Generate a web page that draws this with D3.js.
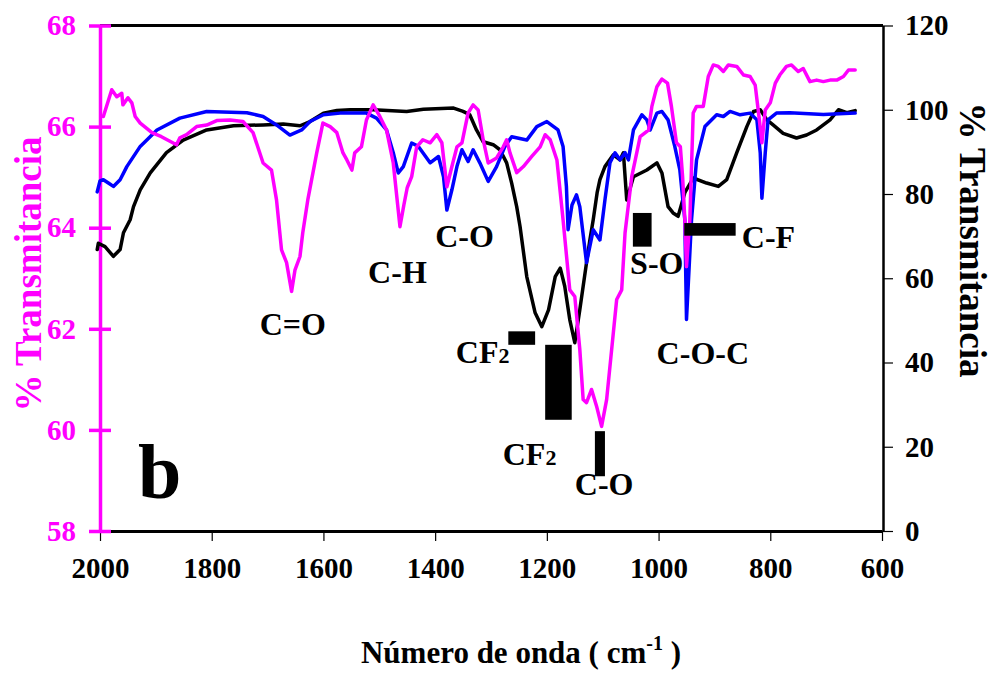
<!DOCTYPE html>
<html lang="es">
<head>
<meta charset="UTF-8">
<title>FTIR b</title>
<script src="https://cdnjs.cloudflare.com/ajax/libs/d3/7.8.5/d3.min.js"></script>
<style>
    body { margin: 0; background: #fff; }
    svg text { font-family: "Liberation Serif", "Times New Roman", serif; font-weight: bold; }
</style>
</head>
<body>
<svg id="chart" width="998" height="674"></svg>
<script>
// magenta spectrum (left axis)
const magWn = [1994,1979,1970,1961,1959,1950,1943,1937,1928,1907,1890,1863,1857,1845,1827,1809,1791,1767,1744,1726,
    1708,1693,1684,1675,1666,1657,1651,1642,1637,1628,1612,1601,1588,1576,1565,1558,1549,1544,1532,1523,
    1511,1499,1487,1475,1463,1456,1450,1442,1433,1422,1409,1397,1388,1379,1370,1361,1352,1341,1332,1323,
    1314,1305,1290,1278,1272,1266,1254,1242,1227,1212,1203,1194,1182,1171,1159,1150,1141,1135,1129,1120,
    1111,1102,1093,1081,1075,1066,1060,1048,1033,1018,1012,1003,994,984,977,968,961,957,953,950,
    944,938,932,920,911,902,893,884,875,860,848,836,827,821,815,809,800,791,783,771,
    762,750,741,729,717,705,693,681,669,660,648];
const magT = [66.20,66.73,66.59,66.66,66.43,66.57,66.47,66.20,66.07,65.88,65.80,65.64,65.78,65.84,66.00,66.03,66.12,66.13,66.10,65.88,
    65.28,65.14,64.55,63.56,63.31,62.74,63.16,63.43,63.90,64.55,65.48,66.07,66.00,65.88,65.48,65.34,65.14,65.48,65.60,66.13,
    66.43,66.20,65.93,65.28,64.02,64.45,64.79,65.01,65.60,65.74,65.68,65.84,65.68,64.81,65.21,65.60,65.68,66.27,66.43,66.33,
    65.74,65.28,65.38,65.60,65.74,65.48,65.09,65.21,65.41,65.60,65.84,65.74,65.34,64.16,62.77,62.64,61.59,60.60,60.54,60.80,
    60.47,60.07,60.60,61.92,62.58,62.77,63.90,65.01,65.80,65.93,66.40,66.79,66.94,66.86,66.40,65.68,65.60,65.01,64.16,63.23,
    64.16,66.27,66.40,66.40,66.99,67.22,67.19,67.09,67.22,67.19,67.02,66.99,66.82,66.27,65.68,66.33,66.47,66.86,67.02,67.19,
    67.22,67.09,67.15,66.89,66.92,66.89,66.92,66.92,66.99,67.12,67.12];

// blue spectrum (right axis)
const blueWn = [2005,2000,1994,1985,1976,1964,1952,1928,1898,1857,1809,1737,1708,1684,1660,1639,1624,1600,1570,1523,
    1505,1487,1475,1466,1457,1442,1430,1409,1394,1385,1379,1370,1361,1352,1341,1332,1320,1305,1290,1275,
    1263,1236,1218,1200,1180,1171,1165,1162,1155,1147,1141,1129,1117,1105,1096,1087,1078,1069,1060,1054,
    1045,1030,1021,1015,1003,994,983,971,962,953,950,941,932,917,896,884,872,854,836,824,
    818,815,809,804,789,765,705,648];
const blueT = [80.5,83.1,83.4,82.6,81.8,83.4,86.5,91.3,95.2,98.0,99.6,99.3,98.4,96.4,94.0,95.2,97.2,98.8,99.2,99.2,
    98.0,95.2,89.8,85.0,86.5,92.1,91.3,87.4,88.9,84.1,76.2,81.0,86.5,90.5,87.7,90.5,87.4,83.0,86.5,91.3,
    93.6,92.8,96.0,97.2,95.2,91.3,81.8,71.5,77.4,79.8,77.0,63.7,71.5,69.1,78.6,87.4,89.8,88.1,89.8,88.1,
    95.2,98.8,97.6,95.2,99.2,99.6,97.6,91.3,85.8,73.9,50.2,73.9,88.1,96.0,98.8,98.4,99.6,98.8,99.2,97.6,
    89.8,79.0,89.8,97.6,99.2,99.3,98.9,99.2];

// black spectrum (right axis)
const blackWn = [2005,2003,1991,1976,1964,1958,1946,1940,1928,1910,1881,1851,1809,1761,1708,1672,1642,1624,1600,1576,
    1552,1511,1451,1421,1367,1350,1338,1326,1314,1296,1284,1272,1263,1254,1248,1236,1221,1209,1197,1185,
    1176,1168,1159,1150,1141,1129,1123,1117,1110,1105,1096,1081,1069,1063,1057,1045,1021,1003,994,983,
    974,965,953,938,914,893,878,860,842,830,818,806,795,777,753,735,717,693,678,663,648];
const blackT = [66.8,68.3,67.5,65.2,66.8,70.8,73.9,77.0,81.0,85.0,89.8,92.8,95.2,96.2,96.4,96.6,96.2,97.2,99.2,99.8,
    100.0,100.0,99.6,100.1,100.4,99.6,98.8,95.2,92.4,91.7,90.5,87.4,82.6,77.0,72.3,60.4,51.8,48.5,52.5,60.4,
    62.4,58.1,50.2,44.7,52.5,63.7,69.1,73.9,80.3,83.4,86.5,89.3,88.1,89.8,78.6,84.1,85.7,87.4,85.0,77.0,
    75.5,74.7,80.3,83.8,82.6,81.8,83.4,89.8,96.0,99.6,100.0,97.6,96.4,94.4,93.3,94.0,95.2,97.6,100.0,99.3,99.8];

const xTicks = [2000, 1800, 1600, 1400, 1200, 1000, 800, 600];
const leftTicks = [58, 60, 62, 64, 66, 68];
const rightTicks = [0, 20, 40, 60, 80, 100, 120];

// band labels: wavenumber, right-axis value, text, subscript
const bandLabels = [
    {wn: 1714, v: 46.5, text: "C=O"},
    {wn: 1520, v: 58.9, text: "C-H"},
    {wn: 1400, v: 67.5, text: "C-O"},
    {wn: 1363, v: 39.9, text: "CF", sub: "2"},
    {wn: 1279, v: 15.7, text: "CF", sub: "2"},
    {wn: 1150, v: 8.6, text: "C-O"},
    {wn: 1051, v: 61.0, text: "S-O"},
    {wn: 851, v: 67.1, text: "C-F"},
    {wn: 1003.5, v: 39.6, text: "C-O-C"}
];
// black marker bars: wavenumber range and right-axis range
const markerBars = [
    {wn1: 1269, wn2: 1221, v1: 47.4, v2: 44.2},
    {wn1: 1203, wn2: 1155.5, v1: 44.2, v2: 26.4},
    {wn1: 1114, wn2: 1096, v1: 23.7, v2: 13.0},
    {wn1: 1046, wn2: 1012.5, v1: 75.5, v2: 67.5},
    {wn1: 954, wn2: 862, v1: 73.1, v2: 70.1}
];

const MAGENTA = "#ff00ff";
const FONT = '"Liberation Serif", "Times New Roman", serif';
const svg = d3.select("#chart");

const x = d3.scaleLinear().domain([2000, 600]).range([100, 882]);
const yL = d3.scaleLinear().domain([58, 68]).range([531, 25.5]);
const yR = d3.scaleLinear().domain([0, 120]).range([531, 25.5]);

// tick label styling shared by the three axes
function styleAxis(g, color) {
    g.attr("font-family", null).attr("font-size", null);
    g.selectAll(".tick text")
        .attr("fill", color)
        .style("font-family", FONT)
        .style("font-weight", "bold")
        .style("font-size", "29px");
}

// top frame line
svg.append("line").attr("x1", 100).attr("x2", 883).attr("y1", yR(120)).attr("y2", yR(120))
    .attr("stroke", "#000").attr("stroke-width", 3);

// x axis
const xAxis = svg.append("g").attr("transform", `translate(0,${yR(0)})`)
    .call(d3.axisBottom(x).tickValues(xTicks).tickFormat(d3.format("d"))
        .tickSize(10).tickSizeOuter(0).tickPadding(16));
styleAxis(xAxis, "#000");
xAxis.select(".domain").attr("stroke-width", 3);
xAxis.selectAll(".tick line").attr("stroke-width", 1.2);

// right axis
const rAxis = svg.append("g").attr("transform", `translate(883,0)`)
    .call(d3.axisRight(yR).tickValues(rightTicks).tickFormat(d3.format("d"))
        .tickSize(10).tickSizeOuter(0).tickPadding(12));
styleAxis(rAxis, "#000");
rAxis.select(".domain").attr("stroke-width", 2.5);
rAxis.selectAll(".tick line").attr("stroke-width", 1.2);

// left axis (magenta, ticks cross the line)
const lAxis = svg.append("g").attr("transform", `translate(100,0)`)
    .call(d3.axisLeft(yL).tickValues(leftTicks).tickFormat(d3.format("d"))
        .tickSize(10).tickSizeOuter(0).tickPadding(14));
styleAxis(lAxis, MAGENTA);
lAxis.select(".domain").attr("stroke", MAGENTA).attr("stroke-width", 3.5);
lAxis.selectAll(".tick line").attr("stroke", MAGENTA).attr("stroke-width", 3.5).attr("x2", -11).attr("x1", 11);

// spectra
function drawSeries(wn, vals, yScale, color) {
    const pts = wn.map((w, i) => [w, vals[i]]);
    svg.append("path")
        .datum(pts)
        .attr("fill", "none")
        .attr("stroke", color)
        .attr("stroke-width", 3.5)
        .attr("stroke-linejoin", "round")
        .attr("stroke-linecap", "round")
        .attr("d", d3.line().x(d => x(d[0])).y(d => yScale(d[1])));
}
drawSeries(blackWn, blackT, yR, "#000");
drawSeries(blueWn, blueT, yR, "#0000ff");
drawSeries(magWn, magT, yL, MAGENTA);

// marker bars
svg.append("g").selectAll("rect")
    .data(markerBars)
    .enter()
    .append("rect")
    .attr("x", d => x(d.wn1))
    .attr("y", d => yR(d.v1))
    .attr("width", d => x(d.wn2) - x(d.wn1))
    .attr("height", d => yR(d.v2) - yR(d.v1))
    .attr("fill", "#000");

// band labels
const lbl = svg.append("g").selectAll("text")
    .data(bandLabels)
    .enter()
    .append("text")
    .attr("x", d => x(d.wn))
    .attr("y", d => yR(d.v))
    .attr("font-size", 32)
    .attr("fill", "#000");
lbl.append("tspan").text(d => d.text);
lbl.filter(d => d.sub).append("tspan").attr("font-size", 22).text(d => d.sub);

// panel letter
svg.append("text").attr("x", 138).attr("y", 498).attr("font-size", 78).text("b");

// axis titles
svg.append("text")
    .attr("transform", "translate(41,274) rotate(-90)")
    .attr("text-anchor", "middle").attr("font-size", 37).attr("fill", MAGENTA)
    .text("% Transmitancia");
svg.append("text")
    .attr("transform", "translate(960,240) rotate(90)")
    .attr("text-anchor", "middle").attr("font-size", 37).attr("fill", "#000")
    .text("% Transmitancia");
const xt = svg.append("text").attr("x", 521).attr("y", 663)
    .attr("text-anchor", "middle").attr("font-size", 31).attr("fill", "#000");
xt.append("tspan").text("Número de onda ( cm");
xt.append("tspan").attr("font-size", 20).attr("dy", -13).text("-1");
xt.append("tspan").attr("dy", 13).text(" )");
</script>
</body>
</html>
